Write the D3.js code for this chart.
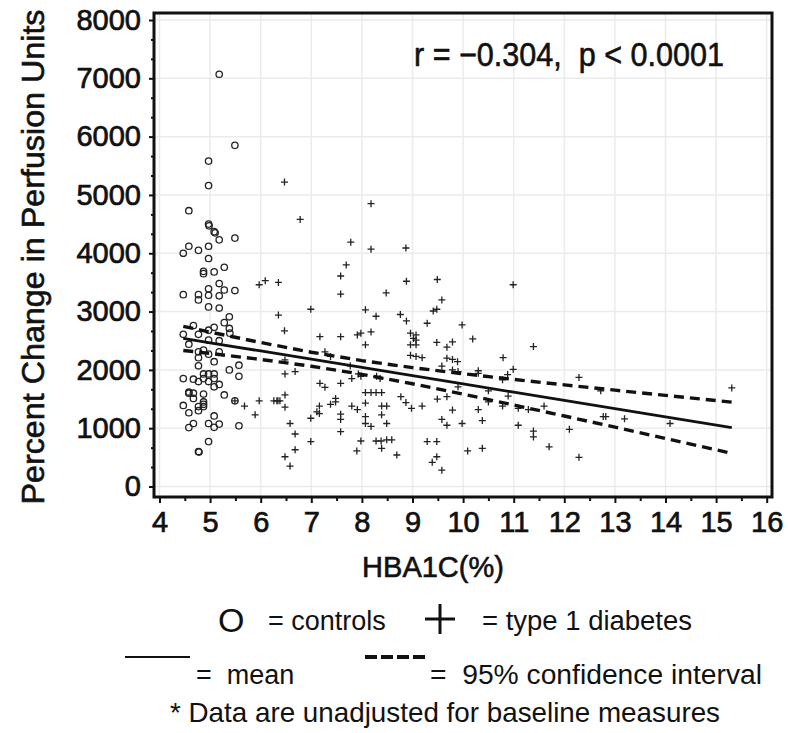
<!DOCTYPE html>
<html>
<head>
<meta charset="utf-8">
<script src="https://cdn.jsdelivr.net/npm/d3@7"></script>
<style>
  body { margin: 0; background: #fff; }
  svg { display: block; }
  text { font-family: "Liberation Sans", Arial, sans-serif; fill: #111; }
</style>
</head>
<body>
<svg id="chart" width="788" height="733"></svg>
<script>
// controls (open circles)
const controlsX = [5.18, 5.49, 4.97, 4.97, 4.58, 4.97, 4.98, 5.08, 5.10, 5.18, 5.49, 4.58, 4.77, 4.47, 4.97, 4.97,
  5.28, 4.87, 4.87, 5.08, 5.18, 4.47, 4.77, 4.77, 4.97, 4.97, 5.28, 5.18, 5.49, 4.97, 5.18, 5.38, 5.28, 4.67,
  5.38, 5.08, 4.97, 4.47, 4.77, 5.39, 4.58, 4.97, 5.18, 4.87, 4.77, 4.77, 4.97, 5.18, 5.08, 4.77, 5.38, 5.57,
  5.57, 4.47, 4.67, 4.87, 4.87, 4.97, 5.08, 5.08, 4.77, 4.97, 5.08, 5.18, 4.58, 4.58, 4.67, 4.87, 4.67, 5.28,
  4.87, 4.87, 4.87, 4.77, 4.77, 4.47, 4.58, 5.49, 5.08, 4.67, 4.58, 4.97, 5.08, 5.18, 5.57, 4.97, 4.77, 4.78];
const controlsY = [7070, 5850, 5580, 5160, 4730, 4500, 4470, 4370, 4350, 4230, 4260, 4120, 4050, 4000, 4120, 3910,
  3760, 3690, 3650, 3680, 3480, 3290, 3290, 3200, 3390, 3280, 3370, 3270, 3360, 3080, 3060, 2910, 2810, 2760,
  2710, 2730, 2680, 2610, 2610, 2630, 2440, 2510, 2500, 2340, 2310, 2210, 2270, 2310, 2140, 2070, 2000, 2080,
  1890, 1850, 1840, 1930, 1850, 1930, 1930, 1850, 1800, 1800, 1710, 1750, 1620, 1600, 1600, 1585, 1510, 1570,
  1450, 1410, 1370, 1370, 1300, 1390, 1265, 1470, 1210, 1080, 1010, 1080, 1015, 1070, 1040, 770, 600, 590];

// type 1 diabetes (plus signs)
const diabetesX = [5.49, 5.97, 6.09, 6.35, 6.35, 5.68, 5.89, 5.97, 6.26, 6.34,
  6.47, 6.78, 8.18, 7.78, 8.18, 8.87,
  7.69, 7.58, 7.58, 8.88, 8.48, 6.99, 8.07, 8.28, 8.76, 8.88, 9.29, 9.48, 9.41,
  6.47, 7.17, 7.58, 7.91, 7.98, 8.18, 8.07,
  8.96, 9.07, 9.02, 9.07, 8.96, 9.07, 8.96, 9.07, 9.19,
  9.48, 7.27, 7.38, 6.48, 6.48, 6.68, 7.77, 7.80, 7.93, 7.98, 8.29, 8.36, 7.58, 7.17, 7.27,
  6.32, 6.38, 6.48, 6.48, 7.38, 7.48, 7.48, 7.16, 7.11, 7.16, 6.99, 7.80, 7.91, 7.58, 7.58, 7.58, 8.07, 8.07,
  8.18, 8.28, 8.39, 8.39, 8.49, 8.39, 8.07, 8.07, 8.18, 8.49, 8.77, 8.87, 8.98, 9.19,
  6.58, 6.68, 6.68, 6.48, 6.58, 6.99, 7.98, 7.90, 8.28, 8.38, 8.49, 8.59, 8.39, 8.69, 9.29, 9.48, 9.48, 9.39,
  9.49, 9.58, 9.98, 10.99, 9.68, 9.79, 10.19, 11.39,
  9.68, 9.79, 9.89, 9.58, 9.79, 9.90, 10.30, 10.30, 10.79, 10.99, 10.88, 10.78, 12.29, 9.49, 9.68, 9.90,
  10.50, 10.50, 10.89, 10.30, 9.79, 10.78, 11.09, 11.29, 11.60, 9.58, 9.68, 9.98, 10.38, 11.09, 11.39, 11.39,
  12.10, 12.72, 12.77, 12.82, 9.58, 10.09, 10.38, 11.70, 12.29, 13.19, 14.09, 15.31];
const diabetesY = [1470, 3460, 3530, 3500, 2940, 1380, 1230, 1470, 1470, 1470,
  5220, 4580, 4850, 4190, 4070, 4090,
  3800, 3610, 3300, 3520, 3320, 3040, 3030, 2920, 2950, 2840, 2800, 3040, 3010,
  2670, 2570, 2570, 2600, 2630, 2650, 2430,
  2630, 2600, 2540, 2510, 2430, 2430, 2250, 2230, 2210,
  2470, 2310, 2230, 2170, 1930, 1970, 2070, 1850, 1930, 1890, 1890, 1850, 1770, 1770, 1700,
  1470, 1470, 1570, 1360, 1410, 1450, 1510, 1380, 1280, 1250, 1170, 1380, 1320, 1240, 1150, 940, 1430, 1610,
  1610, 1610, 1610, 1380, 1380, 1230, 1200, 1080, 1030, 1080, 1540, 1440, 1340, 1380,
  1080, 900, 630, 510, 350, 770, 780, 610, 780, 780, 800, 800, 655, 540, 770, 770, 510, 415,
  3550, 3200, 2770, 3460, 2390, 2480, 2530, 2400,
  2200, 2180, 2140, 2065, 2000, 1970, 1985, 1940, 2210, 2010, 1920, 1830, 1870, 1500, 1540, 1710,
  1640, 1450, 1550, 1320, 1310, 1380, 1340, 1320, 1380, 1150, 1050, 1080, 1130, 1050, 950, 850,
  980, 1640, 1200, 1200, 280, 610, 655, 680, 500, 1160, 1080, 1690];

// regression line and 95% band
const fitX = [4.47, 5, 6, 7, 8, 9, 10, 11, 12, 13, 14, 15.31];
const fitMean = [2540, 2465, 2324, 2183, 2041, 1900, 1759, 1617, 1476, 1335, 1193, 1008];
const fitUpper = [2747, 2648, 2469, 2303, 2158, 2038, 1934, 1836, 1743, 1652, 1562, 1446];
const fitLower = [2333, 2282, 2179, 2063, 1924, 1762, 1584, 1398, 1209, 1018, 824, 570];

const xTicks = [4, 5, 6, 7, 8, 9, 10, 11, 12, 13, 14, 15, 16];
const yTicks = [0, 1000, 2000, 3000, 4000, 5000, 6000, 7000, 8000];

const svg = d3.select('#chart');
const x = d3.scaleLinear().domain([4, 16]).range([159.5, 766.7]);
const y = d3.scaleLinear().domain([0, 8000]).range([486.5, 20]);
const frame = {left: 154, top: 13, right: 772, bottom: 497};

// heavier-looking text without going full bold
const heavy = (sel, w) => sel.attr('font-weight', 'normal').attr('stroke', '#111')
    .attr('stroke-width', w).attr('fill', '#111')
    .attr('font-family', '"Liberation Sans", Arial, sans-serif');

// grid
svg.append('g').selectAll('line').data(xTicks).join('line')
    .attr('x1', d => x(d)).attr('x2', d => x(d))
    .attr('y1', frame.top).attr('y2', frame.bottom)
    .attr('stroke', '#ebebeb').attr('stroke-width', 1.5);
svg.append('g').selectAll('line').data(yTicks).join('line')
    .attr('y1', d => y(d)).attr('y2', d => y(d))
    .attr('x1', frame.left).attr('x2', frame.right)
    .attr('stroke', '#ebebeb').attr('stroke-width', 1.5);

// axes
const xMinor = d3.range(4.5, 16, 1);
const yMinor = d3.range(0, 8001, 1000 / 3).filter(v => Math.abs(v / 1000 - Math.round(v / 1000)) > 0.01);

svg.append('g').attr('transform', `translate(0,${frame.bottom})`)
    .call(d3.axisBottom(x).tickValues(xMinor).tickSize(4).tickFormat(''))
    .call(g => g.select('.domain').remove())
    .selectAll('line').attr('stroke', '#111').attr('stroke-width', 2);
svg.append('g').attr('transform', `translate(0,${frame.bottom})`)
    .call(d3.axisBottom(x).tickValues(xTicks).tickSize(6).tickPadding(8).tickFormat(d3.format('d')))
    .call(g => g.select('.domain').remove())
    .call(g => g.selectAll('line').attr('stroke', '#111').attr('stroke-width', 2))
    .call(g => g.selectAll('text').attr('font-size', 29).call(heavy, 0.7));

svg.append('g').attr('transform', `translate(${frame.left},0)`)
    .call(d3.axisLeft(y).tickValues(yMinor).tickSize(3).tickFormat(''))
    .call(g => g.select('.domain').remove())
    .selectAll('line').attr('stroke', '#111').attr('stroke-width', 2);
svg.append('g').attr('transform', `translate(${frame.left},0)`)
    .call(d3.axisLeft(y).tickValues(yTicks).tickSize(5).tickPadding(8).tickFormat(d3.format('d')))
    .call(g => g.select('.domain').remove())
    .call(g => g.selectAll('line').attr('stroke', '#111').attr('stroke-width', 2))
    .call(g => g.selectAll('text').attr('font-size', 29).call(heavy, 0.7));

// frame
svg.append('rect')
    .attr('x', frame.left).attr('y', frame.top)
    .attr('width', frame.right - frame.left).attr('height', frame.bottom - frame.top)
    .attr('fill', 'none').attr('stroke', '#111').attr('stroke-width', 3);

// points
const controls = controlsX.map((d, i) => ({x: d, y: controlsY[i]}));
const diabetes = diabetesX.map((d, i) => ({x: d, y: diabetesY[i]}));

svg.append('g').selectAll('circle').data(controls).join('circle')
    .attr('cx', d => x(d.x)).attr('cy', d => y(d.y)).attr('r', 3.2)
    .attr('fill', 'none').attr('stroke', '#222').attr('stroke-width', 1.3);

svg.append('g').selectAll('path').data(diabetes).join('path')
    .attr('transform', d => `translate(${x(d.x)},${y(d.y)})`)
    .attr('d', 'M-3.5,0H3.5M0,-3.5V3.5')
    .attr('stroke', '#222').attr('stroke-width', 1.3);

// fit lines
const fit = fitX.map((d, i) => ({x: d, m: fitMean[i], u: fitUpper[i], l: fitLower[i]}));
const line = key => d3.line().x(d => x(d.x)).y(d => y(d[key]))(fit);
svg.append('path').attr('d', line('m')).attr('fill', 'none').attr('stroke', '#111').attr('stroke-width', 2.8);
['u', 'l'].forEach(k => {
    svg.append('path').attr('d', line(k)).attr('fill', 'none').attr('stroke', '#111')
        .attr('stroke-width', 3.4).attr('stroke-dasharray', '10,6');
});

// stats
svg.append('text').attr('x', 414).attr('y', 66)
    .attr('font-size', 33).call(heavy, 0.6)
    .attr('textLength', 310).attr('lengthAdjust', 'spacingAndGlyphs')
    .style('white-space', 'pre')
    .text('r = \u22120.304,  p < 0.0001');

// axis titles
svg.append('text').attr('x', 433).attr('y', 577).attr('text-anchor', 'middle')
    .attr('font-size', 29).call(heavy, 0.6)
    .text('HBA1C(%)');
svg.append('text').attr('transform', 'translate(44,257) rotate(-90)').attr('text-anchor', 'middle')
    .attr('font-size', 31).call(heavy, 0.6)
    .attr('textLength', 495).attr('lengthAdjust', 'spacingAndGlyphs')
    .text('Percent Change in Perfusion Units');

// legend
const leg = svg.append('g');
leg.append('text').attr('x', 218).attr('y', 632).attr('font-size', 34).text('O');
leg.append('text').attr('x', 268).attr('y', 630).attr('font-size', 27).style('white-space', 'pre').text('= controls');
leg.append('path').attr('d', 'M425,619H455M440,604V634').attr('stroke', '#111').attr('stroke-width', 3);
leg.append('text').attr('x', 482).attr('y', 630).attr('font-size', 27)
    .attr('textLength', 210).attr('lengthAdjust', 'spacingAndGlyphs')
    .style('white-space', 'pre').text('= type 1 diabetes');

leg.append('line').attr('x1', 125).attr('x2', 190).attr('y1', 657).attr('y2', 657)
    .attr('stroke', '#111').attr('stroke-width', 2);
leg.append('text').attr('x', 196).attr('y', 684).attr('font-size', 27).style('white-space', 'pre').text('=  mean');
leg.append('line').attr('x1', 365).attr('x2', 425).attr('y1', 657).attr('y2', 657)
    .attr('stroke', '#111').attr('stroke-width', 4).attr('stroke-dasharray', '12,4');
leg.append('text').attr('x', 430).attr('y', 684).attr('font-size', 27)
    .attr('textLength', 332).attr('lengthAdjust', 'spacingAndGlyphs')
    .style('white-space', 'pre').text('=  95% confidence interval');

leg.append('text').attr('x', 170).attr('y', 722).attr('font-size', 28)
    .attr('textLength', 550).attr('lengthAdjust', 'spacingAndGlyphs')
    .text('* Data are unadjusted for baseline measures');
</script>
</body>
</html>
